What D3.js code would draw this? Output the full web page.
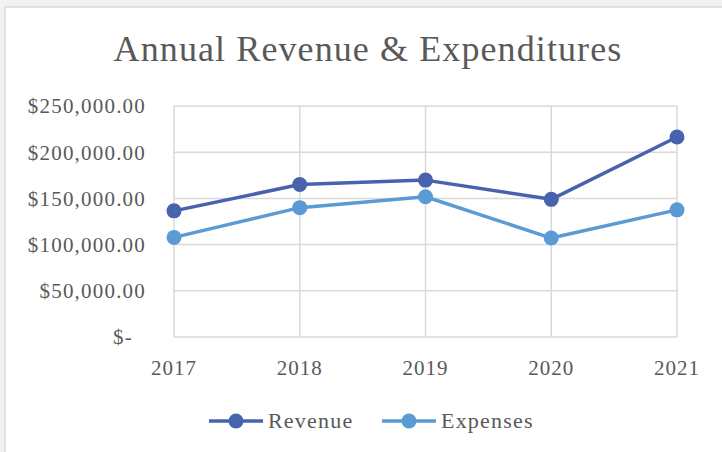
<!DOCTYPE html>
<html>
<head>
<meta charset="utf-8">
<title>Annual Revenue & Expenditures</title>
<script src="https://cdn.jsdelivr.net/npm/d3@7/dist/d3.min.js"></script>
<style>
  html, body { margin: 0; padding: 0; background: #f2f2f2; overflow: hidden; }
  svg { display: block; }
  text { font-family: "Liberation Serif", "Times New Roman", serif; fill: #595959; }
</style>
</head>
<body>
<svg width="722" height="452"></svg>
<script>
var years = ["2017", "2018", "2019", "2020", "2021"];
var revenue = [136500, 165000, 169800, 149000, 216400];
var expenses = [107800, 140000, 151800, 107100, 137600];
var yTicks = [0, 50000, 100000, 150000, 200000, 250000];
var seriesNames = ["Revenue", "Expenses"];
var seriesColors = ["#4763ae", "#5b9bd5"];

var svg = d3.select("svg");

// fond du graphique
svg.append("rect")
  .attr("x", 5).attr("y", 7)
  .attr("width", 740).attr("height", 460)
  .attr("fill", "#ffffff")
  .attr("stroke", "#d9d9d9")
  .attr("stroke-width", 1.5);

var x = d3.scalePoint().domain(years).range([174, 677]);
var y = d3.scaleLinear().domain([0, 250000]).range([337, 106]);

svg.append("text")
  .attr("x", 368).attr("y", 61)
  .attr("text-anchor", "middle")
  .style("font-size", "36px")
  .style("letter-spacing", "1.1px")
  .text("Annual Revenue & Expenditures");

// grille horizontale
svg.append("g")
  .selectAll("line")
  .data(yTicks)
  .enter()
  .append("line")
    .attr("x1", x.range()[0]).attr("x2", x.range()[1])
    .attr("y1", function (d) { return y(d); })
    .attr("y2", function (d) { return y(d); })
    .attr("stroke", "#d9d9d9")
    .attr("stroke-width", 1.5);

// grille verticale
svg.append("g")
  .selectAll("line")
  .data(years)
  .enter()
  .append("line")
    .attr("x1", function (d) { return x(d); })
    .attr("x2", function (d) { return x(d); })
    .attr("y1", y(0)).attr("y2", y(250000))
    .attr("stroke", "#d9d9d9")
    .attr("stroke-width", 1.5);

var fmt = d3.format("$,.2f");
svg.append("g")
  .selectAll("text")
  .data(yTicks)
  .enter()
  .append("text")
    .attr("x", function (d) { return d === 0 ? 133 : 146; })
    .attr("y", function (d) { return y(d); })
    .attr("dy", "0.35em")
    .attr("text-anchor", "end")
    .style("font-size", "21px")
    .style("letter-spacing", "1.2px")
    .text(function (d) { return d === 0 ? "$-" : fmt(d); });

svg.append("g")
  .selectAll("text")
  .data(years)
  .enter()
  .append("text")
    .attr("x", function (d) { return x(d); })
    .attr("y", 375)
    .attr("text-anchor", "middle")
    .style("font-size", "21px")
    .style("letter-spacing", "1px")
    .text(function (d) { return d; });

var series = [revenue, expenses];
var line = d3.line()
  .x(function (d, i) { return x(years[i]); })
  .y(function (d) { return y(d); });

series.forEach(function (values, k) {
  var g = svg.append("g");
  g.append("path")
    .datum(values)
    .attr("d", line)
    .attr("fill", "none")
    .attr("stroke", seriesColors[k])
    .attr("stroke-width", 3.5)
    .attr("stroke-linejoin", "round");
  g.selectAll("circle")
    .data(values)
    .enter()
    .append("circle")
      .attr("cx", function (d, i) { return x(years[i]); })
      .attr("cy", function (d) { return y(d); })
      .attr("r", 7.5)
      .attr("fill", seriesColors[k]);
});

// légende
var legendX = [209, 382];
var legend = svg.append("g")
  .selectAll("g")
  .data(seriesNames)
  .enter()
  .append("g")
    .attr("transform", function (d, i) { return "translate(" + legendX[i] + ",421)"; });
legend.append("line")
  .attr("x1", 0).attr("x2", 54)
  .attr("stroke", function (d, i) { return seriesColors[i]; })
  .attr("stroke-width", 3.5);
legend.append("circle")
  .attr("cx", 27).attr("r", 7.5)
  .attr("fill", function (d, i) { return seriesColors[i]; });
legend.append("text")
  .attr("x", 59).attr("dy", "0.33em")
  .style("font-size", "22px")
  .style("letter-spacing", "1.2px")
  .text(function (d) { return d; });
</script>
</body>
</html>
